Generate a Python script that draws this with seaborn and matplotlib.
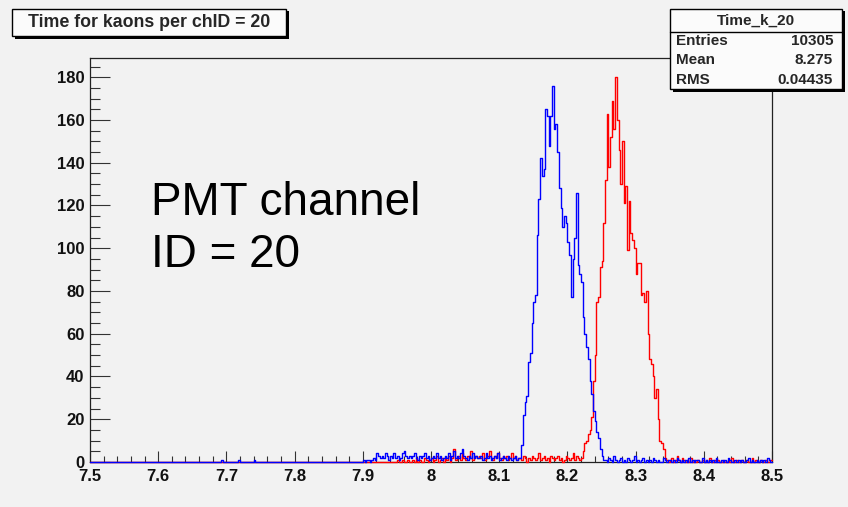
import numpy as np
import pandas as pd
import matplotlib
matplotlib.use("Agg")
import matplotlib.pyplot as plt
import seaborn as sns
from matplotlib.patches import Rectangle
from matplotlib.ticker import MultipleLocator, FixedLocator, FixedFormatter

# ---------------- data ----------------
bin_width = 0.0025
hist_low, hist_high = 7.5, 8.5
region_start = 7.9          # first bin of the listed counts

blue_counts = [
    # 7.900 - 7.920
    1, 0, 1, 1, 0, 1, 2, 1,
    # 7.920 - 7.970
    4, 3, 2, 3, 2, 4, 3, 1, 3, 2, 4, 2, 3, 1, 2, 4, 5, 3, 2, 3,
    # 7.970 - 8.020
    2, 3, 4, 2, 1, 3, 2, 3, 4, 2, 3, 1, 2, 3, 2, 4, 2, 3, 1, 2,
    # 8.020 - 8.070
    3, 2, 4, 1, 3, 5, 2, 3, 2, 4, 6, 3, 2, 1, 3, 2, 4, 2, 3, 2,
    # 8.070 - 8.130
    2, 3, 1, 2, 4, 2, 3, 1, 2, 3, 2, 4, 1, 2, 3, 2, 1, 3, 2, 1, 2, 3, 1, 2,
    # 8.130 - 8.255 (peak)
    2, 8, 22, 28, 31, 47, 51, 65, 75, 78,
    106, 123, 142, 134, 137, 165, 162, 148, 162, 176,
    156, 158, 145, 128, 119, 110, 115, 112, 103, 97,
    77, 95, 105, 126, 92, 88, 84, 68, 60, 54,
    48, 38, 32, 24, 19, 14, 11, 6, 3, 1,
    # 8.255 - 8.500
    1, 0, 2, 1, 0, 3, 1, 0, 1, 2, 0, 1, 0, 2, 1, 0, 1, 3, 0, 1,
    0, 1, 2, 0, 1, 0, 1, 0, 2, 1, 0, 1, 0, 0, 2, 1, 0, 1, 1, 0,
    1, 0, 2, 1, 0, 1, 0, 1, 0, 2, 0, 1, 0, 1, 1, 0, 0, 2, 0, 1,
    0, 1, 0, 1, 0, 2, 0, 0, 1, 0, 1, 0, 2, 1, 0, 0, 1, 0, 1, 0,
    1, 0, 0, 1, 2, 0, 1, 0, 0, 1, 0, 1, 0, 1, 0, 2, 1, 0,
]

red_counts = [
    # 7.900 - 7.970
    0, 0, 0, 0, 0, 0, 0, 0, 0, 0, 0, 0, 0, 0, 0, 0, 0, 0, 0, 0, 1, 0, 0, 1, 0, 0, 1, 0,
    # 7.970 - 8.020
    0, 1, 0, 2, 0, 1, 0, 0, 2, 1, 0, 1, 2, 0, 1, 3, 0, 1, 2, 0,
    # 8.020 - 8.070
    2, 1, 3, 0, 2, 6, 1, 2, 3, 1, 4, 2, 1, 3, 2, 5, 1, 2, 3, 2,
    # 8.070 - 8.130
    3, 2, 4, 1, 2, 3, 5, 2, 1, 3, 2, 4, 2, 1, 3, 2, 3, 1, 2, 4, 2, 3, 1, 2,
    # 8.130 - 8.220
    2, 1, 3, 2, 0, 2, 1, 3, 2, 1, 2, 4, 1, 2, 3, 1, 2, 0,
    3, 2, 1, 2, 3, 1, 2, 0, 1, 3, 2, 1, 2, 4, 1, 3, 2, 1,
    # 8.220 - 8.350 (peak)
    2, 5, 9, 10, 13, 15, 21, 38, 50, 75,
    77, 91, 94, 112, 132, 163, 138, 152, 169, 156,
    180, 160, 146, 130, 150, 121, 129, 99, 122, 107,
    104, 100, 88, 93, 93, 78, 79, 75, 80, 60,
    48, 46, 40, 30, 34, 20, 10, 9, 6, 2,
    1, 0,
    # 8.350 - 8.500
    1, 2, 0, 1, 3, 1, 0, 2, 1, 0, 1, 0, 2, 0, 1, 0, 1, 0, 0, 1,
    0, 1, 0, 2, 0, 0, 1, 0, 1, 0, 0, 1, 0, 0, 1, 0, 2, 0, 0, 1,
    0, 0, 1, 0, 0, 1, 0, 0, 2, 0, 1, 0, 0, 1, 0, 0, 1, 0, 0, 1,
]

# isolated early blue entries (bin start, count)
blue_extra_start = [7.6925, 7.7175, 7.7400]
blue_extra_n = [1, 1, 1]

x_ticks = [7.5, 7.6, 7.7, 7.8, 7.9, 8.0, 8.1, 8.2, 8.3, 8.4, 8.5]
x_tick_labels = ["7.5", "7.6", "7.7", "7.8", "7.9", "8", "8.1", "8.2", "8.3", "8.4", "8.5"]
y_ticks = [0, 20, 40, 60, 80, 100, 120, 140, 160, 180]
y_tick_labels = ["0", "20", "40", "60", "80", "100", "120", "140", "160", "180"]
y_max = 189

title_text = "Time for kaons per chID = 20"
stats_name = "Time_k_20"
stats_labels = ["Entries", "Mean", "RMS"]
stats_values = ["10305", "8.275", "0.04435"]
annotation_lines = ["PMT channel", "ID = 20"]

# ---------------- build tables ----------------
edges = np.linspace(hist_low, hist_high, int(round((hist_high - hist_low) / bin_width)) + 1).tolist()
blue_t = np.concatenate([np.array(blue_extra_start),
                         region_start + bin_width * np.arange(len(blue_counts))]) + bin_width / 2
blue_n = np.concatenate([np.array(blue_extra_n), np.array(blue_counts)]).astype(float)
red_t = region_start + bin_width * np.arange(len(red_counts)) + bin_width / 2
red_n = np.array(red_counts, dtype=float)
red_df = pd.DataFrame({"time": red_t, "count": red_n})
blue_df = pd.DataFrame({"time": blue_t, "count": blue_n})

# ---------------- figure ----------------
sns.set_style("ticks")
bg = "#f2f2f2"
bold_fam = ["Liberation Sans", "DejaVu Sans"]
W, H = 848, 507
fig = plt.figure(figsize=(W / 100, H / 100), dpi=100, facecolor=bg)

def fx(px):
    return px / W

def fy(py):
    return 1 - py / H

ax_l, ax_r, ax_t, ax_b = 90, 772, 58, 462
ax = fig.add_axes([fx(ax_l), fy(ax_b), fx(ax_r - ax_l), (ax_b - ax_t) / H])
ax.set_facecolor(bg)

for sub, col in ((red_df, "#ff0000"), (blue_df, "#0000ff")):
    sns.histplot(data=sub, x="time", weights="count", bins=edges, element="step",
                 fill=False, color=col, linewidth=1.0, ax=ax)
for ln in ax.lines:
    ln.set_zorder(3)
    ln.set_clip_on(False)

ax.set_xlim(hist_low, hist_high)
ax.set_ylim(0, y_max)
ax.set_xlabel("")
ax.set_ylabel("")

ax.xaxis.set_major_locator(FixedLocator(x_ticks))
ax.xaxis.set_major_formatter(FixedFormatter(x_tick_labels))
ax.yaxis.set_major_locator(FixedLocator(y_ticks))
ax.yaxis.set_major_formatter(FixedFormatter(y_tick_labels))
ax.xaxis.set_minor_locator(MultipleLocator(0.02))
ax.yaxis.set_minor_locator(MultipleLocator(5))

ax.tick_params(axis="both", which="both", direction="in", colors="#333333",
               width=0.8, top=False, right=False)
ax.tick_params(axis="x", which="major", length=8, pad=5)
ax.tick_params(axis="x", which="minor", length=4.3)
ax.tick_params(axis="y", which="major", length=14.4, pad=4)
ax.tick_params(axis="y", which="minor", length=7.2)
for lab in ax.get_xticklabels() + ax.get_yticklabels():
    lab.set_fontfamily(bold_fam)
    lab.set_fontweight("bold")
    lab.set_fontsize(12)
    lab.set_color("#111111")
for s in ax.spines.values():
    s.set_visible(True)
    s.set_color("#222222")
    s.set_linewidth(0.9)

# big annotation
for line, base in zip(annotation_lines, (215, 267)):
    fig.text(fx(151), fy(base), line, ha="left", va="baseline", fontsize=33,
             family=["Liberation Sans", "DejaVu Sans"], color="black")

# ---------------- boxes ----------------
def box(x0, y0, x1, y1):
    sh = 2.5
    fig.add_artist(Rectangle((fx(x0 + sh), fy(y1 + sh)), fx(x1 - x0), (y1 - y0) / H,
                             transform=fig.transFigure, facecolor="black",
                             edgecolor="none", zorder=10))
    fig.add_artist(Rectangle((fx(x0), fy(y1)), fx(x1 - x0), (y1 - y0) / H,
                             transform=fig.transFigure, facecolor="#fbfbfb",
                             edgecolor="black", linewidth=1.0, zorder=11))

# title box
box(12, 9, 286, 36)
fig.text(fx(149), fy(22.5), title_text, ha="center", va="center", fontsize=12.8,
         fontweight="bold", family=bold_fam, zorder=12)

# stats box
sx0, sy0, sx1, sy1 = 670, 9, 842, 89
box(sx0, sy0, sx1, sy1)
fig.add_artist(plt.Line2D([fx(sx0), fx(sx1)], [fy(32), fy(32)], transform=fig.transFigure,
                          color="black", linewidth=1.0, zorder=12))
fig.text(fx((sx0 + sx1) / 2), fy(21), stats_name, ha="center", va="center", fontsize=11,
         fontweight="bold", family=bold_fam, zorder=12)
for i, (lab, val) in enumerate(zip(stats_labels, stats_values)):
    yy = 41 + i * 19.5
    fig.text(fx(676), fy(yy), lab, ha="left", va="center", fontsize=11,
             fontweight="bold", family=bold_fam, zorder=12)
    fig.text(fx(833), fy(yy), val, ha="right", va="center", fontsize=11,
             fontweight="bold", family=bold_fam, zorder=12)

fig.savefig("out.png", dpi=100, facecolor=bg)
